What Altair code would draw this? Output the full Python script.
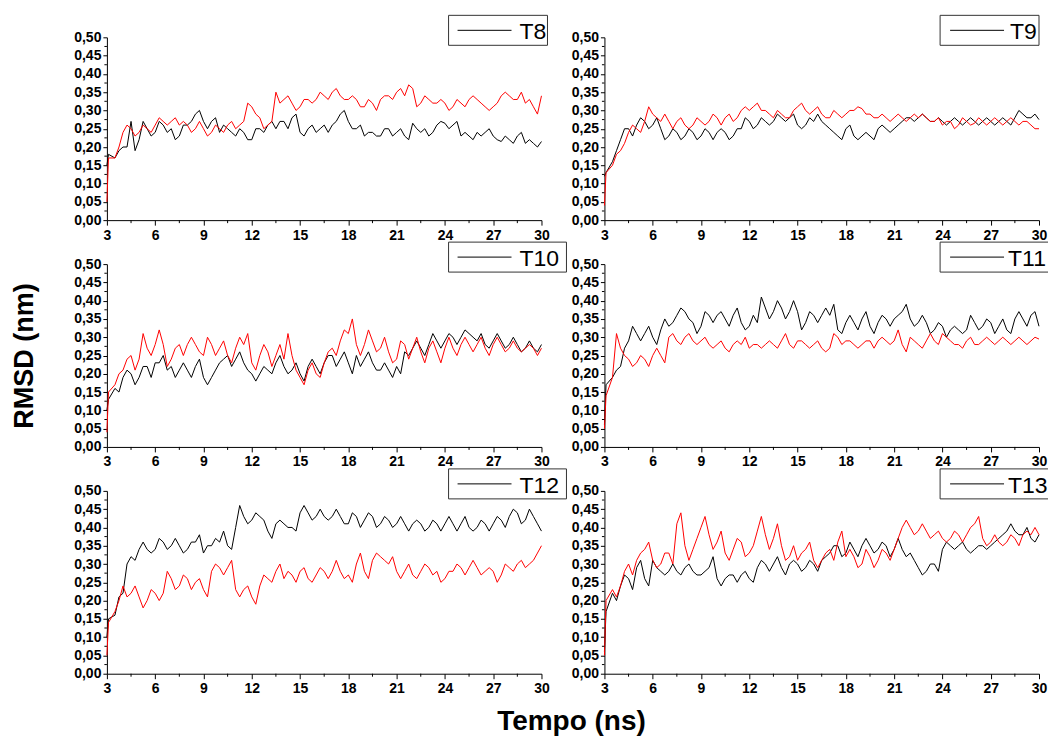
import altair as alt
import pandas as pd

# ---------------- data ----------------
# main samples
times = [3.0, 3.1,
         3.5, 4.0, 4.5, 5.0, 5.5, 6.0, 6.5, 7.0, 7.5, 8.0,
         8.5, 9.0, 9.5, 10.0, 10.5, 11.0, 11.5, 12.0, 12.5, 13.0,
         13.5, 14.0, 14.5, 15.0, 15.5, 16.0, 16.5, 17.0, 17.5, 18.0,
         18.5, 19.0, 19.5, 20.0, 20.5, 21.0, 21.5, 22.0, 22.5, 23.0,
         23.5, 24.0, 24.5, 25.0, 25.5, 26.0, 26.5, 27.0, 27.5, 28.0,
         28.5, 29.0, 29.5, 30.0]
# in-between samples (fluctuation extremes)
times_mid = [3.75, 4.25, 4.75, 5.25, 5.75, 6.25, 6.75, 7.25, 7.75, 8.25,
             8.75, 9.25, 9.75, 10.25, 10.75, 11.25, 11.75, 12.25, 12.75, 13.25,
             13.75, 14.25, 14.75, 15.25, 15.75, 16.25, 16.75, 17.25, 17.75, 18.25,
             18.75, 19.25, 19.75, 20.25, 20.75, 21.25, 21.75, 22.25, 22.75, 23.25,
             23.75, 24.25, 24.75, 25.25, 25.75, 26.25, 26.75, 27.25, 27.75, 28.25,
             28.75, 29.25, 29.75]

b8 = [0.15, 0.18,
      0.17, 0.20, 0.27, 0.22, 0.25, 0.24, 0.26, 0.25, 0.23, 0.26,
      0.29, 0.27, 0.27, 0.24, 0.25, 0.23, 0.24, 0.22, 0.25, 0.26,
      0.25, 0.27, 0.28, 0.24, 0.25, 0.24, 0.26, 0.26, 0.29, 0.27,
      0.25, 0.23, 0.24, 0.23, 0.25, 0.24, 0.23, 0.265, 0.24, 0.23,
      0.26, 0.265, 0.26, 0.23, 0.23, 0.24, 0.24, 0.23, 0.215, 0.22,
      0.23, 0.21, 0.21, 0.215]
b8_mid = [0.19, 0.20, 0.19, 0.27, 0.23, 0.27, 0.24, 0.22, 0.26, 0.27,
          0.30, 0.25, 0.28, 0.26, 0.24, 0.25, 0.22, 0.25, 0.24, 0.27,
          0.27, 0.25, 0.29, 0.23, 0.26, 0.25, 0.24, 0.27, 0.30, 0.25,
          0.26, 0.24, 0.23, 0.25, 0.23, 0.25, 0.22, 0.25, 0.25, 0.24,
          0.27, 0.25, 0.27, 0.24, 0.22, 0.23, 0.25, 0.22, 0.23, 0.21,
          0.24, 0.22, 0.20]
r8 = [0.05, 0.17,
      0.17, 0.24, 0.25, 0.24, 0.25, 0.26, 0.27, 0.27, 0.26, 0.26,
      0.25, 0.25, 0.24, 0.25, 0.26, 0.25, 0.27, 0.31, 0.28, 0.26,
      0.35, 0.33, 0.32, 0.31, 0.33, 0.33, 0.34, 0.35, 0.34, 0.33,
      0.33, 0.31, 0.32, 0.33, 0.34, 0.35, 0.34, 0.36, 0.32, 0.33,
      0.32, 0.32, 0.31, 0.32, 0.33, 0.33, 0.31, 0.31, 0.34, 0.34,
      0.33, 0.32, 0.31, 0.34]
r8_mid = [0.20, 0.26, 0.23, 0.26, 0.24, 0.28, 0.26, 0.28, 0.27, 0.24,
          0.27, 0.23, 0.26, 0.24, 0.27, 0.26, 0.32, 0.29, 0.25, 0.27,
          0.32, 0.34, 0.30, 0.33, 0.32, 0.35, 0.33, 0.36, 0.33, 0.34,
          0.31, 0.33, 0.30, 0.34, 0.33, 0.36, 0.37, 0.31, 0.34, 0.32,
          0.33, 0.30, 0.33, 0.31, 0.34, 0.32, 0.30, 0.32, 0.35, 0.33,
          0.35, 0.33, 0.29]

b9 = [0.12, 0.13,
      0.16, 0.22, 0.25, 0.26, 0.27, 0.26, 0.25, 0.23, 0.24, 0.23,
      0.24, 0.23, 0.24, 0.24, 0.24, 0.23, 0.25, 0.27, 0.26, 0.27,
      0.27, 0.28, 0.28, 0.26, 0.26, 0.27, 0.27, 0.25, 0.23, 0.25,
      0.23, 0.23, 0.23, 0.25, 0.25, 0.25, 0.27, 0.28, 0.28, 0.28,
      0.27, 0.27, 0.27, 0.27, 0.27, 0.27, 0.27, 0.27, 0.27, 0.27,
      0.28, 0.29, 0.28, 0.275]
b9_mid = [0.19, 0.25, 0.23, 0.28, 0.25, 0.28, 0.22, 0.25, 0.22, 0.25,
          0.22, 0.25, 0.22, 0.25, 0.22, 0.25, 0.28, 0.25, 0.28, 0.26,
          0.29, 0.27, 0.29, 0.25, 0.28, 0.29, 0.26, 0.24, 0.22, 0.26,
          0.22, 0.24, 0.22, 0.26, 0.24, 0.26, 0.28, 0.27, 0.29, 0.27,
          0.28, 0.26, 0.28, 0.26, 0.28, 0.26, 0.28, 0.26, 0.28, 0.26,
          0.30, 0.28, 0.29]
r9 = [0.04, 0.13,
      0.15, 0.19, 0.24, 0.25, 0.27, 0.29, 0.27, 0.27, 0.27, 0.26,
      0.26, 0.27, 0.27, 0.28, 0.28, 0.27, 0.30, 0.30, 0.32, 0.30,
      0.28, 0.29, 0.28, 0.31, 0.30, 0.30, 0.29, 0.28, 0.29, 0.29,
      0.30, 0.305, 0.29, 0.28, 0.28, 0.28, 0.28, 0.28, 0.28, 0.28,
      0.27, 0.26, 0.27, 0.26, 0.27, 0.265, 0.27, 0.27, 0.27, 0.27,
      0.27, 0.27, 0.26, 0.25]
r9_mid = [0.18, 0.21, 0.26, 0.24, 0.31, 0.28, 0.29, 0.25, 0.28, 0.25,
          0.28, 0.26, 0.29, 0.26, 0.29, 0.28, 0.31, 0.31, 0.30, 0.29,
          0.30, 0.28, 0.30, 0.32, 0.29, 0.31, 0.28, 0.30, 0.28, 0.30,
          0.31, 0.29, 0.28, 0.29, 0.27, 0.29, 0.27, 0.29, 0.29, 0.27,
          0.28, 0.27, 0.25, 0.28, 0.26, 0.28, 0.26, 0.28, 0.26, 0.28,
          0.26, 0.27, 0.25]

b10 = [0.10, 0.13,
       0.16, 0.19, 0.20, 0.19, 0.22, 0.23, 0.25, 0.22, 0.21, 0.21,
       0.22, 0.19, 0.19, 0.23, 0.25, 0.24, 0.23, 0.20, 0.20, 0.21,
       0.23, 0.22, 0.21, 0.20, 0.22, 0.22, 0.23, 0.25, 0.24, 0.23,
       0.25, 0.24, 0.23, 0.21, 0.21, 0.22, 0.26, 0.27, 0.27, 0.28,
       0.29, 0.29, 0.30, 0.30, 0.31, 0.29, 0.28, 0.29, 0.29, 0.28,
       0.28, 0.27, 0.27, 0.28]
b10_mid = [0.15, 0.21, 0.17, 0.22, 0.19, 0.23, 0.21, 0.19, 0.23, 0.19,
           0.24, 0.17, 0.21, 0.24, 0.22, 0.26, 0.21, 0.18, 0.22, 0.20,
           0.25, 0.20, 0.23, 0.18, 0.24, 0.20, 0.25, 0.22, 0.26, 0.20,
           0.22, 0.26, 0.21, 0.23, 0.19, 0.20, 0.25, 0.29, 0.25, 0.31,
           0.27, 0.31, 0.28, 0.32, 0.30, 0.31, 0.27, 0.31, 0.27, 0.30,
           0.26, 0.29, 0.26]
r10 = [0.04, 0.15,
       0.17, 0.21, 0.25, 0.24, 0.27, 0.28, 0.28, 0.24, 0.28, 0.28,
       0.28, 0.25, 0.28, 0.27, 0.25, 0.27, 0.28, 0.23, 0.25, 0.26,
       0.25, 0.24, 0.25, 0.19, 0.21, 0.20, 0.23, 0.27, 0.29, 0.31,
       0.28, 0.28, 0.29, 0.27, 0.26, 0.24, 0.28, 0.27, 0.26, 0.27,
       0.26, 0.27, 0.27, 0.28, 0.28, 0.28, 0.27, 0.28, 0.28, 0.27,
       0.27, 0.27, 0.27, 0.27]
r10_mid = [0.20, 0.24, 0.21, 0.31, 0.25, 0.32, 0.22, 0.27, 0.25, 0.30,
           0.26, 0.30, 0.25, 0.29, 0.23, 0.30, 0.31, 0.21, 0.28, 0.22,
           0.28, 0.31, 0.21, 0.17, 0.23, 0.19, 0.26, 0.25, 0.32, 0.35,
           0.25, 0.32, 0.26, 0.30, 0.23, 0.29, 0.24, 0.30, 0.23, 0.29,
           0.23, 0.30, 0.25, 0.30, 0.26, 0.30, 0.25, 0.30, 0.26, 0.29,
           0.26, 0.28, 0.25]

b11 = [0.06, 0.17,
       0.19, 0.22, 0.29, 0.31, 0.31, 0.30, 0.32, 0.33, 0.36, 0.37,
       0.34, 0.33, 0.36, 0.36, 0.35, 0.36, 0.34, 0.33, 0.34, 0.38,
       0.37, 0.38, 0.37, 0.37, 0.34, 0.36, 0.36, 0.36, 0.32, 0.34,
       0.34, 0.35, 0.33, 0.34, 0.35, 0.35, 0.37, 0.35, 0.34, 0.34,
       0.32, 0.33, 0.32, 0.32, 0.32, 0.34, 0.33, 0.34, 0.33, 0.32,
       0.35, 0.35, 0.36, 0.33]
b11_mid = [0.21, 0.27, 0.33, 0.29, 0.33, 0.28, 0.35, 0.34, 0.38, 0.35,
           0.31, 0.37, 0.34, 0.37, 0.33, 0.38, 0.32, 0.36, 0.41, 0.35,
           0.40, 0.35, 0.40, 0.32, 0.37, 0.34, 0.38, 0.39, 0.31, 0.36,
           0.32, 0.37, 0.31, 0.36, 0.33, 0.36, 0.39, 0.33, 0.36, 0.31,
           0.34, 0.30, 0.33, 0.31, 0.36, 0.32, 0.35, 0.31, 0.35, 0.31,
           0.37, 0.33, 0.37]
r11 = [0.05, 0.14,
       0.19, 0.27, 0.24, 0.23, 0.24, 0.25, 0.25, 0.30, 0.29, 0.30,
       0.29, 0.29, 0.28, 0.28, 0.27, 0.28, 0.28, 0.27, 0.28, 0.28,
       0.28, 0.29, 0.28, 0.29, 0.28, 0.28, 0.27, 0.27, 0.30, 0.29,
       0.28, 0.28, 0.29, 0.29, 0.29, 0.29, 0.28, 0.30, 0.28, 0.29,
       0.29, 0.31, 0.29, 0.28, 0.29, 0.28, 0.29, 0.29, 0.29, 0.29,
       0.29, 0.29, 0.29, 0.295]
r11_mid = [0.31, 0.25, 0.22, 0.25, 0.22, 0.27, 0.23, 0.31, 0.28, 0.31,
           0.28, 0.30, 0.27, 0.29, 0.26, 0.29, 0.30, 0.28, 0.27, 0.29,
           0.27, 0.31, 0.27, 0.29, 0.27, 0.29, 0.26, 0.31, 0.28, 0.29,
           0.27, 0.29, 0.27, 0.30, 0.28, 0.32, 0.26, 0.29, 0.27, 0.31,
           0.28, 0.30, 0.28, 0.27, 0.30, 0.28, 0.30, 0.28, 0.30, 0.28,
           0.30, 0.28, 0.30]

b12 = [0.10, 0.15,
       0.16, 0.22, 0.32, 0.34, 0.34, 0.34, 0.36, 0.35, 0.35, 0.34,
       0.36, 0.33, 0.35, 0.36, 0.35, 0.40, 0.43, 0.42, 0.43, 0.39,
       0.41, 0.41, 0.40, 0.44, 0.44, 0.43, 0.43, 0.43, 0.43, 0.41,
       0.43, 0.42, 0.43, 0.41, 0.42, 0.41, 0.41, 0.41, 0.41, 0.40,
       0.41, 0.41, 0.41, 0.41, 0.40, 0.40, 0.41, 0.41, 0.42, 0.43,
       0.44, 0.42, 0.43, 0.39]
b12_mid = [0.21, 0.30, 0.31, 0.36, 0.33, 0.37, 0.34, 0.37, 0.33, 0.36,
           0.38, 0.35, 0.37, 0.39, 0.34, 0.46, 0.41, 0.44, 0.42, 0.37,
           0.42, 0.40, 0.39, 0.46, 0.42, 0.45, 0.42, 0.45, 0.41, 0.44,
           0.40, 0.44, 0.40, 0.43, 0.40, 0.43, 0.39, 0.42, 0.39, 0.42,
           0.39, 0.43, 0.39, 0.43, 0.39, 0.42, 0.39, 0.43, 0.40, 0.45,
           0.41, 0.45, 0.41]
r12 = [0.05, 0.14,
       0.17, 0.24, 0.22, 0.21, 0.20, 0.22, 0.22, 0.26, 0.24, 0.26,
       0.25, 0.23, 0.28, 0.29, 0.29, 0.23, 0.23, 0.21, 0.24, 0.26,
       0.28, 0.26, 0.27, 0.28, 0.26, 0.27, 0.28, 0.28, 0.28, 0.27,
       0.30, 0.28, 0.31, 0.32, 0.30, 0.28, 0.28, 0.27, 0.28, 0.29,
       0.28, 0.26, 0.28, 0.29, 0.29, 0.29, 0.28, 0.28, 0.27, 0.29,
       0.30, 0.29, 0.31, 0.35]
r12_mid = [0.20, 0.21, 0.24, 0.18, 0.23, 0.20, 0.28, 0.23, 0.27, 0.23,
           0.26, 0.21, 0.30, 0.27, 0.31, 0.21, 0.24, 0.19, 0.27, 0.25,
           0.30, 0.28, 0.25, 0.29, 0.25, 0.29, 0.26, 0.31, 0.26, 0.25,
           0.33, 0.26, 0.33, 0.31, 0.32, 0.26, 0.30, 0.26, 0.30, 0.27,
           0.25, 0.28, 0.30, 0.27, 0.31, 0.27, 0.29, 0.25, 0.30, 0.28,
           0.31, 0.30, 0.33]

b13 = [0.06, 0.17,
       0.22, 0.24, 0.26, 0.29, 0.26, 0.31, 0.28, 0.28, 0.28, 0.29,
       0.28, 0.27, 0.29, 0.26, 0.26, 0.27, 0.27, 0.26, 0.29, 0.30,
       0.30, 0.29, 0.30, 0.30, 0.29, 0.30, 0.31, 0.33, 0.35, 0.33,
       0.34, 0.35, 0.35, 0.34, 0.35, 0.34, 0.34, 0.33, 0.29, 0.28,
       0.30, 0.34, 0.35, 0.35, 0.34, 0.34, 0.35, 0.35, 0.37, 0.39,
       0.39, 0.38, 0.37, 0.38]
b13_mid = [0.20, 0.27, 0.23, 0.31, 0.24, 0.29, 0.27, 0.30, 0.27, 0.30,
           0.27, 0.28, 0.32, 0.24, 0.27, 0.25, 0.28, 0.25, 0.31, 0.28,
           0.32, 0.27, 0.31, 0.28, 0.31, 0.28, 0.32, 0.35, 0.32, 0.36,
           0.32, 0.37, 0.33, 0.36, 0.32, 0.37, 0.32, 0.31, 0.27, 0.30,
           0.28, 0.36, 0.34, 0.36, 0.33, 0.35, 0.34, 0.36, 0.38, 0.41,
           0.38, 0.40, 0.36]
r13 = [0.05, 0.20,
       0.23, 0.24, 0.30, 0.31, 0.34, 0.31, 0.30, 0.33, 0.41, 0.35,
       0.34, 0.40, 0.38, 0.36, 0.33, 0.34, 0.36, 0.33, 0.39, 0.38,
       0.37, 0.35, 0.32, 0.31, 0.34, 0.31, 0.31, 0.34, 0.36, 0.32,
       0.32, 0.30, 0.32, 0.31, 0.33, 0.34, 0.40, 0.40, 0.39, 0.39,
       0.38, 0.37, 0.37, 0.38, 0.38, 0.41, 0.37, 0.36, 0.36, 0.36,
       0.37, 0.38, 0.38, 0.38]
r13_mid = [0.21, 0.28, 0.27, 0.33, 0.36, 0.29, 0.33, 0.30, 0.44, 0.31,
           0.37, 0.43, 0.34, 0.39, 0.31, 0.37, 0.32, 0.35, 0.43, 0.34,
           0.41, 0.31, 0.35, 0.33, 0.36, 0.29, 0.33, 0.31, 0.39, 0.34,
           0.29, 0.34, 0.29, 0.34, 0.31, 0.37, 0.42, 0.38, 0.41, 0.37,
           0.39, 0.36, 0.39, 0.36, 0.40, 0.43, 0.35, 0.38, 0.35, 0.38,
           0.35, 0.39, 0.40]

labels = ["T8", "T9", "T10", "T11", "T12", "T13"]
blacks = [(b8, b8_mid), (b9, b9_mid), (b10, b10_mid), (b11, b11_mid), (b12, b12_mid), (b13, b13_mid)]
reds = [(r8, r8_mid), (r9, r9_mid), (r10, r10_mid), (r11, r11_mid), (r12, r12_mid), (r13, r13_mid)]

x_ticks = [3, 6, 9, 12, 15, 18, 21, 24, 27, 30]
x_minor = [4.5, 7.5, 10.5, 13.5, 16.5, 19.5, 22.5, 25.5, 28.5]
y_ticks = [0.0, 0.05, 0.10, 0.15, 0.20, 0.25, 0.30, 0.35, 0.40, 0.45, 0.50]
y_minor = [0.025, 0.075, 0.125, 0.175, 0.225, 0.275, 0.325, 0.375, 0.425, 0.475]

# ---------------- layout / style ----------------
W, H = 435, 183
FONT = "Liberation Sans"
LABEL_EXPR = "replace(format(datum.value, '.2f'), '.', ',')"

xs = alt.Scale(domain=[3, 30], nice=False, zero=False)
ys = alt.Scale(domain=[0, 0.5], nice=False)

xaxis = alt.Axis(values=x_ticks, title=None, grid=False, tickSize=5, labelPadding=3,
                 labelFontSize=14, labelFontWeight="bold", labelFont=FONT,
                 labelColor="black", domainColor="black", tickColor="black",
                 labelFlush=False, labelOverlap=False)
yaxis = alt.Axis(values=y_ticks, title=None, grid=False, tickSize=4, labelPadding=2,
                 labelFontSize=14, labelFontWeight="bold", labelFont=FONT,
                 labelColor="black", domainColor="black", tickColor="black",
                 labelExpr=LABEL_EXPR, labelOverlap=False)


def panel(i):
    label = labels[i]
    col = i % 2
    bmain, bmid = blacks[i]
    rmain, rmid = reds[i]
    df = pd.DataFrame({"t": times + times_mid, "black": bmain + bmid, "red": rmain + rmid})
    df = df.sort_values("t")
    base = alt.Chart(df)
    blk = base.mark_line(color="black", strokeWidth=1).encode(
        x=alt.X("t:Q", scale=xs, axis=xaxis),
        y=alt.Y("black:Q", scale=ys, axis=yaxis))
    rd = base.mark_line(color="#ff0000", strokeWidth=1).encode(
        x=alt.X("t:Q", scale=xs, axis=xaxis),
        y=alt.Y("red:Q", scale=ys, axis=yaxis))
    ymin = alt.Chart(pd.DataFrame({"m": y_minor})).mark_rule(color="black").encode(
        y=alt.Y("m:Q", scale=ys, axis=yaxis), x=alt.value(-2.5), x2=alt.value(0))
    xmin = alt.Chart(pd.DataFrame({"m": x_minor})).mark_rule(color="black").encode(
        x=alt.X("m:Q", scale=xs, axis=xaxis), y=alt.value(H), y2=alt.value(H + 3))

    lg = pd.DataFrame({"label": [label]})
    if col == 0:
        bx, lx, tx = 342, 351, 413
    else:
        bx, lx, tx = 336, 346, 406
    short = len(label) == 2
    y0, y1 = -22, 8
    layers = [blk, rd, ymin, xmin]
    if col == 1 and not short:
        # box runs off the right edge of the figure: no right border
        tx = 404
        right = 444
        layers.append(alt.Chart(lg).mark_rect(fill="white", strokeWidth=0).encode(
            x=alt.value(bx), x2=alt.value(right), y=alt.value(y0), y2=alt.value(y1)))
        for (xa, xb, ya, yb) in [(bx, right, y0, y0), (bx, right, y1, y1), (bx, bx, y0, y1)]:
            layers.append(alt.Chart(lg).mark_rule(color="#333333", strokeWidth=1).encode(
                x=alt.value(xa), x2=alt.value(xb), y=alt.value(ya), y2=alt.value(yb)))
    else:
        bw = 99 if short else 118
        layers.append(alt.Chart(lg).mark_rect(fill="white", stroke="#333333", strokeWidth=1).encode(
            x=alt.value(bx), x2=alt.value(bx + bw), y=alt.value(y0), y2=alt.value(y1)))
    sample = alt.Chart(lg).mark_rule(color="black", strokeWidth=1).encode(
        x=alt.value(lx), x2=alt.value(lx + 54), y=alt.value(-7))
    txt = alt.Chart(lg).mark_text(align="left", baseline="alphabetic", font=FONT,
                                  fontSize=23, color="black").encode(
        x=alt.value(tx), y=alt.value(2), text="label:N")
    layers += [sample, txt]

    if i == 0:
        anchor = alt.Chart(lg).mark_rect(opacity=0).encode(
            x=alt.value(-107), x2=alt.value(-106), y=alt.value(-37), y2=alt.value(-36))
        layers.append(anchor)
    if i == 2:
        ytitle = alt.Chart(pd.DataFrame({"s": ["RMSD (nm)"]})).mark_text(
            angle=270, fontSize=27, fontWeight="bold", font=FONT, align="center",
            baseline="middle", color="black").encode(
            x=alt.value(-82), y=alt.value(92), text="s:N")
        layers.append(ytitle)
    if i == 4:
        xtitle = alt.Chart(pd.DataFrame({"s": ["Tempo (ns)"]})).mark_text(
            fontSize=28, fontWeight="bold", font=FONT, align="center",
            baseline="alphabetic", color="black").encode(
            x=alt.value(465), y=alt.value(239), text="s:N")
        layers.append(xtitle)
    return alt.layer(*layers).properties(width=W, height=H)


chart = alt.concat(*[panel(i) for i in range(6)], columns=2,
                   spacing={"row": 44, "column": 63}, bounds="flush").properties(
    padding=0, background="white").configure_view(stroke=None)

chart.save("out.html", embed_options={"renderer": "svg", "actions": False})
